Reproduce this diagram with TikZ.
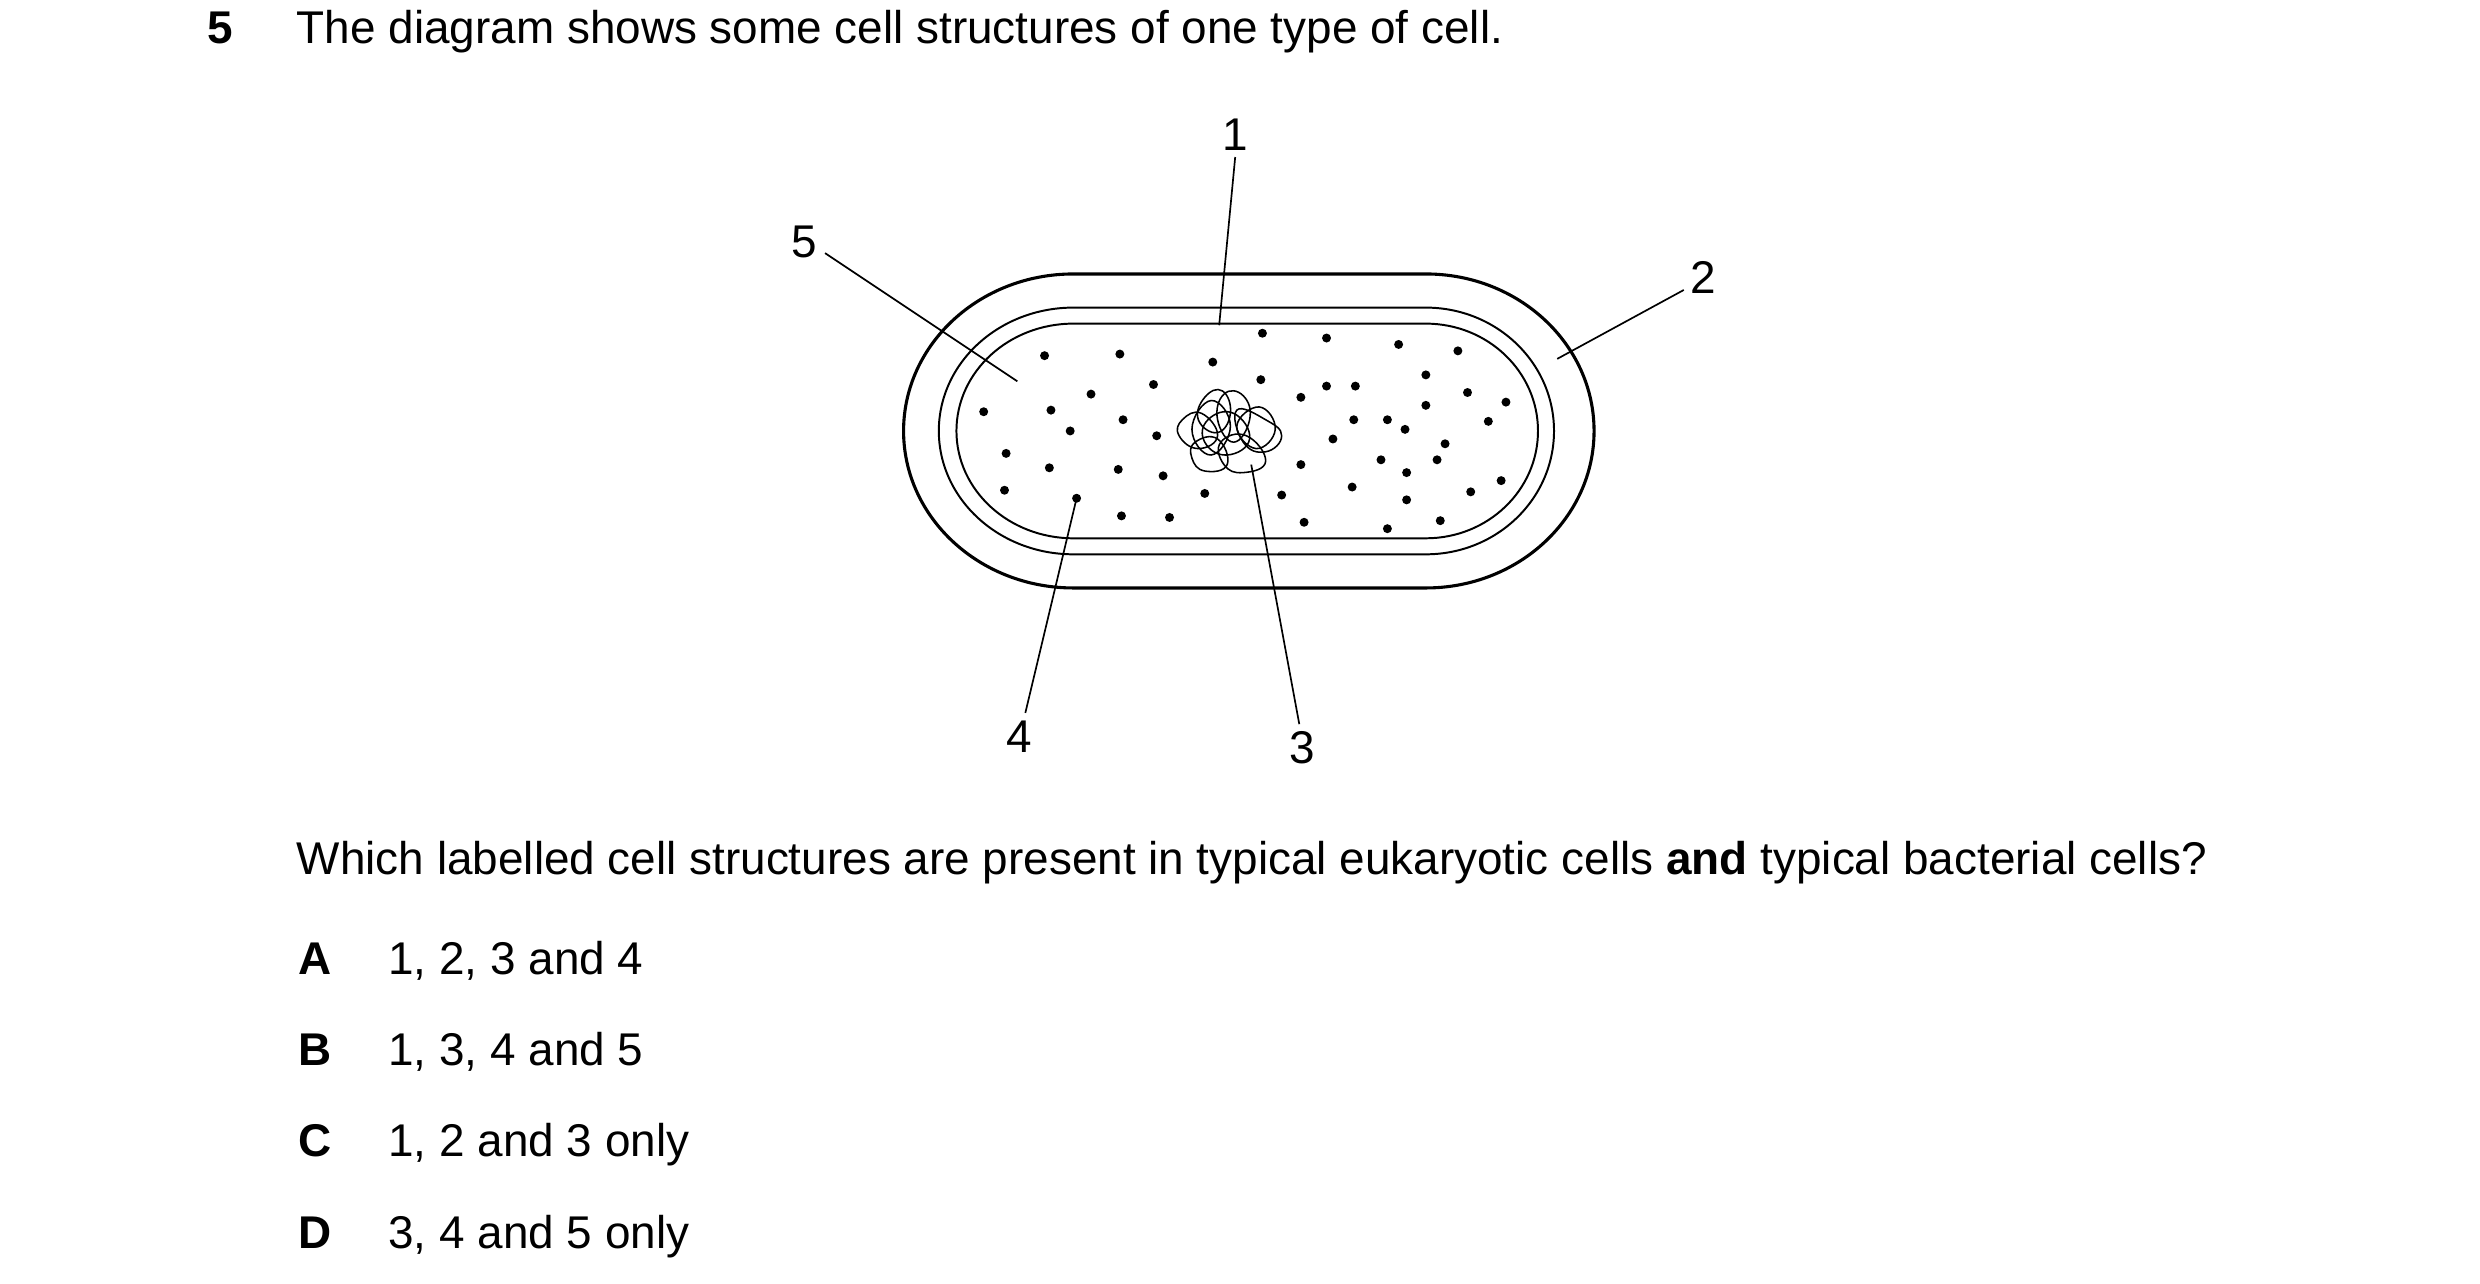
\documentclass[tikz,border=0pt]{standalone}
\usepackage{fontspec}
\setmainfont{Liberation Sans}
\begin{document}
\begin{tikzpicture}[x=0.02cm,y=-0.02cm,
  txt/.style={font=\fontsize{16.3}{19}\selectfont,inner sep=0pt},
  lab/.style={txt,anchor=center},
  leader/.style={line width=0.6pt},
  dot/.style={fill=black},
  loop/.style={line width=0.55pt}]
\useasboundingbox (0,0) rectangle (1548,801);
% texts
\node[txt,anchor=base west] (qn) at (129,27) {\textbf{5}};
\node[txt,anchor=base west] (stem) at (185,27) {The diagram shows some cell structures of one type of cell.};
\node[txt,anchor=base west] (q) at (185,546) {Which labelled cell structures are present in typical eukaryotic cells \textbf{and} typical bacterial cells?};
\node[txt,anchor=base west] (la) at (186,608) {\textbf{A}};
\node[txt,anchor=base west] (ta) at (242,608) {1, 2, 3 and 4};
\node[txt,anchor=base west] (lb) at (186,665) {\textbf{B}};
\node[txt,anchor=base west] (tb) at (242,665) {1, 3, 4 and 5};
\node[txt,anchor=base west] (lc) at (186,722) {\textbf{C}};
\node[txt,anchor=base west] (tc) at (242,722) {1, 2 and 3 only};
\node[txt,anchor=base west] (ld) at (186,779) {\textbf{D}};
\node[txt,anchor=base west] (td) at (242,779) {3, 4 and 5 only};
% cell
\draw[line width=1.1pt] (670,171) -- (890,171) arc[start angle=-90,end angle=90,x radius=105,y radius=98] -- (670,367) arc[start angle=90,end angle=270,x radius=106,y radius=98] -- cycle;
\draw[line width=0.7pt] (670,192) -- (890,192) arc[start angle=-90,end angle=90,x radius=80,y radius=77] -- (670,346) arc[start angle=90,end angle=270,x radius=84,y radius=77] -- cycle;
\draw[line width=0.7pt] (670,202) -- (890,202) arc[start angle=-90,end angle=90,x radius=70,y radius=67] -- (670,336) arc[start angle=90,end angle=270,x radius=73,y radius=67] -- cycle;
% ribosomes
\foreach \p in {(652,222),(699,221),(757,226),(788,208),(828,211),(873,215),(910,219),(720,240),(681,246),(787,237),(614,257),(656,256),(668,269),(701,262),(722,272),(812,248),(828,241),(846,241),(890,234),(916,245),(940,251),(866,262),(890,253),(845,262),(877,268),(929,263),(832,274),(902,277),(628,283),(655,292),(698,293),(726,297),(752,308),(812,290),(862,287),(878,295),(897,287),(937,300),(627,306),(672,311),(700,322),(730,323),(800,309),(844,304),(878,312),(918,307),(814,326),(866,330),(899,325)}
  \fill[dot] \p circle (2.8);
% nucleoid
\draw[loop] plot[smooth cycle,tension=0.8] coordinates {(752,248)(763,244)(768,258)(760,270)(748,262)};
\draw[loop] plot[smooth cycle,tension=0.8] coordinates {(764,246)(776,247)(780,262)(770,276)(760,262)};
\draw[loop] plot[smooth cycle,tension=0.8] coordinates {(738,262)(750,258)(760,272)(748,280)(736,272)};
\draw[loop] plot[smooth cycle,tension=0.8] coordinates {(772,256)(790,262)(800,272)(790,282)(776,276)};
\draw[loop] plot[smooth cycle,tension=0.8] coordinates {(746,276)(760,274)(766,290)(752,294)(744,286)};
\draw[loop] plot[smooth cycle,tension=0.8] coordinates {(762,276)(778,272)(790,288)(776,295)(764,290)};
\draw[loop] plot[smooth cycle,tension=0.8] coordinates {(754,262)(770,258)(780,274)(766,284)(752,276)};
\draw[loop] plot[smooth cycle,tension=0.8] coordinates {(772,266)(786,254)(796,268)(784,280)};
\draw[loop] plot[smooth cycle,tension=0.8] coordinates {(744,268)(756,250)(768,266)(756,284)};
% labels and leaders
\node[lab] (n1) at (771,84) {1};
\node[lab] (n2) at (1063,173) {2};
\node[lab] (n3) at (813,467) {3};
\node[lab] (n4) at (636,460) {4};
\node[lab] (n5) at (502,151) {5};
\coordinate (e1) at (761,203);
\coordinate (e2) at (972,224);
\coordinate (e3) at (781,290);
\coordinate (e4) at (672,311);
\coordinate (e5) at (635,238);
\draw[leader] (771,98) -- (e1);
\draw[leader] (1051,181) -- (e2);
\draw[leader] (811,452) -- (e3);
\draw[leader] (640,445) -- (e4);
\draw[leader] (515,158) -- (e5);
\end{tikzpicture}
\end{document}
